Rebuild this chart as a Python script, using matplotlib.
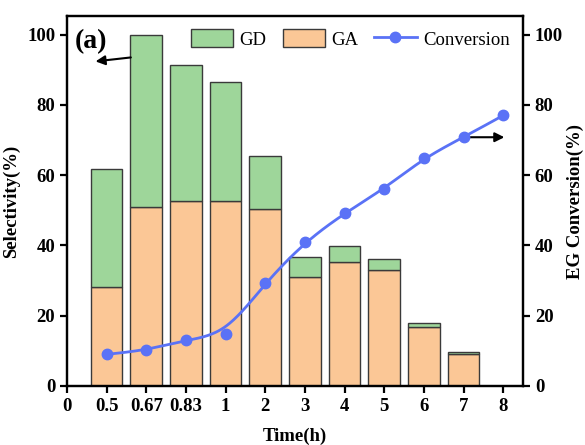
import numpy as np
import matplotlib
matplotlib.use("Agg")
import matplotlib.pyplot as plt
from matplotlib.patches import Patch
from matplotlib.lines import Line2D

# ---- data ----
tick_labels = ["0", "0.5", "0.67", "0.83", "1", "2", "3", "4", "5", "6", "7", "8"]
bar_times = ["0.5", "0.67", "0.83", "1", "2", "3", "4", "5", "6", "7"]
ga = [28.1, 50.9, 52.6, 52.6, 50.3, 31.1, 35.4, 33.0, 16.9, 9.2]
total = [61.7, 100.0, 91.4, 86.4, 65.5, 36.6, 39.9, 36.1, 18.0, 9.7]
gd = [t - a for t, a in zip(total, ga)]
conv_times = ["0.5", "0.67", "0.83", "1", "2", "3", "4", "5", "6", "7", "8"]
conversion = [9.0, 10.2, 13.1, 14.8, 29.4, 41.0, 49.2, 56.1, 64.9, 70.8, 77.0]

plt.rcParams['font.family'] = ['Liberation Serif', 'DejaVu Serif']
FS = 13.5

c_green = "#9ed69a"
c_orange = "#fbc796"
c_blue = "#5a72f6"
c_edge = "#3a3a3a"

fig = plt.figure(figsize=(5.85, 4.45), dpi=100)
ax = fig.add_axes([0.1145, 0.1326, 0.7795, 0.8314])

pos = {lab: i for i, lab in enumerate(tick_labels)}
xb = [pos[t] for t in bar_times]
ax.bar(xb, ga, width=0.8, color=c_orange, edgecolor=c_edge, linewidth=1.0, zorder=2)
ax.bar(xb, gd, bottom=ga, width=0.8, color=c_green, edgecolor=c_edge, linewidth=1.0, zorder=2)

ax.set_xlim(0, 11.5)
ax.set_ylim(0, 105.3)
ax.set_xticks(range(len(tick_labels)))
ax.set_xticklabels(tick_labels)
ax.set_yticks([0, 20, 40, 60, 80, 100])

ax2 = ax.twinx()
ax2.set_ylim(0, 105.3)
ax2.set_yticks([0, 20, 40, 60, 80, 100])

# smooth B-spline curve through conversion control points
xc = np.array([pos[t] for t in conv_times], dtype=float)
yc = np.array(conversion, dtype=float)
px = np.concatenate([[xc[0]] * 2, xc, [xc[-1]] * 2])
py = np.concatenate([[yc[0]] * 2, yc, [yc[-1]] * 2])
cx, cy = [], []
u = np.linspace(0, 1, 30)
b0 = (1 - u) ** 3 / 6
b1 = (3 * u ** 3 - 6 * u ** 2 + 4) / 6
b2 = (-3 * u ** 3 + 3 * u ** 2 + 3 * u + 1) / 6
b3 = u ** 3 / 6
for i in range(len(px) - 3):
    cx.append(b0 * px[i] + b1 * px[i + 1] + b2 * px[i + 2] + b3 * px[i + 3])
    cy.append(b0 * py[i] + b1 * py[i + 1] + b2 * py[i + 2] + b3 * py[i + 3])
cx = np.concatenate(cx)
cy = np.concatenate(cy)
ax2.plot(cx, cy, color=c_blue, lw=2.0, zorder=3)
ax2.plot(xc, yc, 'o', color=c_blue, markersize=7.5, zorder=4)

for a in (ax, ax2):
    for s in a.spines.values():
        s.set_linewidth(1.6)
ax.tick_params(axis='both', direction='out', length=5, width=1.6, labelsize=FS)
ax2.tick_params(axis='y', direction='out', length=5, width=1.6, labelsize=FS)
for lab in ax.get_xticklabels() + ax.get_yticklabels() + ax2.get_yticklabels():
    lab.set_fontweight('bold')

ax.set_xlabel("Time(h)", fontsize=FS, fontweight='bold', labelpad=9)
ax.set_ylabel("Selectivity(%)", fontsize=FS, fontweight='bold', labelpad=5)
ax2.set_ylabel("EG Conversion(%)", fontsize=FS, fontweight='bold', rotation=90, labelpad=3)

ax.text(0.018, 0.965, "(a)", transform=ax.transAxes, fontsize=20, fontweight='bold', va='top', ha='left')

# arrows
ax.annotate("", xy=(0.65, 92.3), xytext=(1.68, 93.6),
            arrowprops=dict(arrowstyle='-|>', color='black', lw=1.5, mutation_scale=14))
ax2.annotate("", xy=(11.1, 70.8), xytext=(9.9, 70.8),
             arrowprops=dict(arrowstyle='-|>', color='black', lw=1.5, mutation_scale=14))

handles = [Patch(facecolor=c_green, edgecolor=c_edge, linewidth=1.0),
           Patch(facecolor=c_orange, edgecolor=c_edge, linewidth=1.0),
           Line2D([], [], color=c_blue, lw=2.0, marker='o', markersize=7.5)]
leg = ax2.legend(handles, ["GD", "GA", "Conversion"], ncol=3, frameon=False,
                 loc='upper right', bbox_to_anchor=(1.0, 1.0), fontsize=FS,
                 handlelength=2.25, handleheight=1.1, columnspacing=0.85, handletextpad=0.35,
                 borderaxespad=0.3)

fig.savefig("out.png", dpi=100)
